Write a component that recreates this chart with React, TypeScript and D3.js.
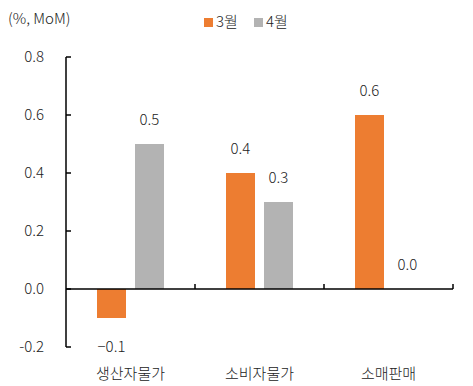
import React from "react";
import * as d3 from "d3";

const categories = ["생산자물가", "소비자물가", "소매판매"];
const march = [-0.1, 0.4, 0.6];
const april = [0.5, 0.3, 0.0];
const seriesNames = ["3월", "4월"];
const yTicks = [-0.2, 0.0, 0.2, 0.4, 0.6, 0.8];

const ORANGE = "#ED7D31";
const GRAY = "#B3B3B3";
const FONT = "'Noto Sans CJK KR', 'Noto Sans', sans-serif";

export default function App() {
  const width = 473;
  const height = 386;
  const margin = { top: 57, right: 20, bottom: 39, left: 66 };
  const innerW = width - margin.left - margin.right;

  const x = d3.scaleBand<string>().domain(categories).range([margin.left, margin.left + innerW]);
  const y = d3.scaleLinear().domain([-0.2, 0.8]).range([height - margin.bottom, margin.top]);

  const barW = 29;
  const gap = 9;
  const series = [
    { name: seriesNames[0], values: march, color: ORANGE },
    { name: seriesNames[1], values: april, color: GRAY },
  ];

  return (
    <svg width={width} height={height} style={{ position: "absolute", left: 0, top: 0, background: "#fff" }}
      fontFamily={FONT} fontWeight={300}>
      <text x={8} y={24} fontSize={15} fill="#222">(%, MoM)</text>

      {/* legend */}
      {series.map((s, i) => (
        <g key={s.name} transform={`translate(${204 + i * 50},0)`}>
          <rect x={0} y={18} width={9} height={9} fill={s.color} />
          <text x={12} y={27} fontSize={15} fill="#222">{s.name}</text>
        </g>
      ))}

      {/* y axis */}
      <line x1={margin.left} x2={margin.left} y1={y(0.8)} y2={y(-0.2)} stroke="#000" strokeWidth={1.5} />
      {yTicks.map(t => (
        <g key={t}>
          <line x1={margin.left} x2={margin.left + 5} y1={y(t)} y2={y(t)} stroke="#000" strokeWidth={1.5} />
          <text x={44} y={y(t)} dy="0.35em" textAnchor="end" fontSize={15} fill="#222">
            {t < 0 ? "-" + Math.abs(t).toFixed(1) : t.toFixed(1)}
          </text>
        </g>
      ))}

      {/* bars */}
      {categories.map((c, ci) => {
        const cx = (x(c) as number) + x.bandwidth() / 2;
        return series.map((s, si) => {
          const v = s.values[ci];
          const bx = si === 0 ? cx - gap / 2 - barW : cx + gap / 2;
          const top = Math.min(y(v), y(0));
          const h = Math.abs(y(v) - y(0));
          const labelY = v < 0 ? y(-0.2) : y(v) - 24;
          return (
            <g key={c + s.name}>
              <rect x={bx} y={top} width={barW} height={h} fill={s.color} />
              <text x={bx + barW / 2} y={labelY} dy="0.35em" textAnchor="middle" fontSize={15} fill="#222">
                {v < 0 ? "−" + Math.abs(v).toFixed(1) : v.toFixed(1)}
              </text>
            </g>
          );
        });
      })}

      {/* x axis */}
      <line x1={margin.left} x2={margin.left + innerW} y1={y(0)} y2={y(0)} stroke="#000" strokeWidth={1.5} />
      {categories.map(c => {
        const tx = (x(c) as number) + x.bandwidth();
        return <line key={c} x1={tx} x2={tx} y1={y(0)} y2={y(0) - 5} stroke="#000" strokeWidth={1.5} />;
      })}
      {categories.map(c => (
        <text key={c} x={(x(c) as number) + x.bandwidth() / 2} y={374} dy="0.35em" textAnchor="middle" fontSize={15} fill="#222">
          {c}
        </text>
      ))}
    </svg>
  );
}
